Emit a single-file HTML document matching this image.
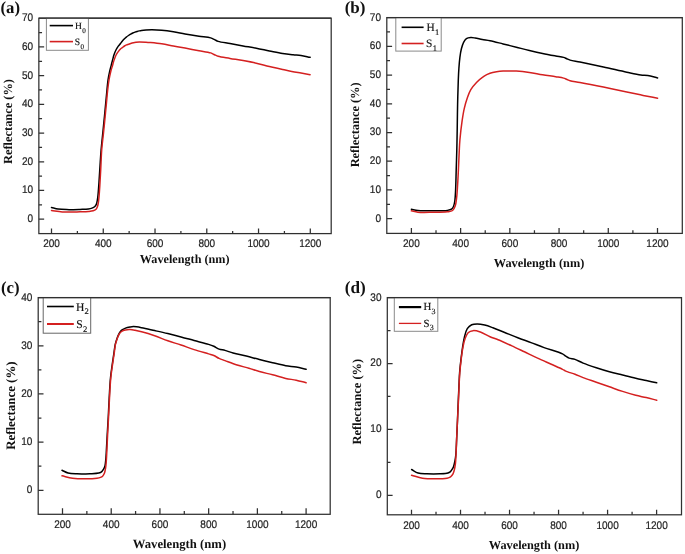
<!DOCTYPE html>
<html><head><meta charset="utf-8"><style>
html,body{margin:0;padding:0;background:#fff;width:685px;height:554px;overflow:hidden}
svg{display:block;will-change:transform;text-rendering:geometricPrecision}
.tl{font-family:"Liberation Sans",sans-serif;font-size:11px;fill:#222;stroke:#222;stroke-width:0.2px}
.at{font-family:"Liberation Serif",serif;font-weight:bold;font-size:12.6px;fill:#111}
.lg{font-family:"Liberation Serif",serif;font-size:9.8px;fill:#111;stroke:#111;stroke-width:0.15px}
.sb{font-size:7px}
.pl{font-family:"Liberation Serif",serif;font-weight:bold;font-size:16.5px;fill:#111}
</style></head><body>
<svg width="685" height="554" viewBox="0 0 685 554">
<rect width="685" height="554" fill="#fff"/>
<path d="M51.50 207.40 C53.67 207.93 55.66 208.63 58.00 209.00 C60.67 209.42 63.49 209.51 66.70 209.60 C70.66 209.71 76.07 209.52 80.00 209.40 C83.12 209.30 86.20 209.32 88.40 209.00 C89.86 208.78 90.92 208.50 92.00 208.10 C92.96 207.75 93.88 207.41 94.60 206.80 C95.32 206.18 95.86 205.34 96.30 204.40 C96.81 203.30 97.02 201.98 97.30 200.50 C97.66 198.62 97.85 196.50 98.10 194.00 C98.44 190.61 98.71 186.29 99.00 182.00 C99.34 177.05 99.65 171.33 100.00 166.00 C100.35 160.67 100.64 155.49 101.10 150.00 C101.59 144.17 102.33 137.73 102.90 132.00 C103.42 126.77 103.91 121.97 104.40 117.00 C104.88 112.10 105.36 107.00 105.80 102.40 C106.19 98.28 106.52 94.51 106.90 90.70 C107.26 87.05 107.51 83.33 108.00 80.00 C108.44 77.05 109.03 74.27 109.60 71.70 C110.10 69.44 110.67 67.48 111.20 65.37 C111.73 63.27 112.30 60.99 112.80 59.09 C113.22 57.51 113.48 56.26 114.00 54.76 C114.58 53.07 115.41 51.04 116.20 49.50 C116.86 48.21 117.55 47.13 118.30 46.10 C118.99 45.15 119.84 44.30 120.50 43.50 C121.05 42.82 121.44 42.27 122.00 41.60 C122.65 40.82 123.46 39.87 124.20 39.10 C124.89 38.38 125.57 37.71 126.30 37.10 C127.01 36.51 127.76 36.00 128.50 35.50 C129.23 35.01 129.97 34.52 130.70 34.10 C131.40 33.70 132.08 33.33 132.80 33.00 C133.52 32.67 134.26 32.40 135.00 32.14 C135.73 31.88 136.47 31.63 137.20 31.42 C137.90 31.22 138.59 31.05 139.30 30.89 C140.02 30.73 140.63 30.59 141.50 30.46 C142.73 30.28 144.39 30.11 146.00 30.00 C147.85 29.87 149.76 29.79 152.00 29.80 C154.85 29.81 158.32 29.91 161.70 30.20 C165.42 30.51 169.52 31.08 173.40 31.70 C177.28 32.32 180.95 33.18 185.00 33.90 C189.44 34.69 194.54 35.51 199.00 36.20 C203.07 36.83 207.91 37.09 210.70 37.90 C212.36 38.38 213.25 39.01 214.50 39.60 C215.75 40.18 216.57 40.87 218.20 41.40 C220.98 42.30 225.96 42.77 230.00 43.50 C234.25 44.27 238.72 45.12 243.10 45.90 C247.49 46.68 251.91 47.37 256.30 48.20 C260.68 49.03 265.02 50.02 269.40 50.90 C273.79 51.78 278.44 52.83 282.60 53.50 C286.29 54.09 289.85 54.45 293.10 54.80 C295.92 55.10 298.28 55.11 301.00 55.50 C303.94 55.92 307.07 56.70 310.10 57.30" fill="none" stroke="#000" stroke-width="1.5" stroke-linejoin="round" stroke-linecap="round"/>
<path d="M51.50 210.50 C55.10 210.97 58.25 211.65 62.30 211.90 C67.47 212.22 75.19 211.90 80.00 211.80 C83.32 211.73 85.99 211.72 88.40 211.50 C90.23 211.33 91.87 211.22 93.20 210.80 C94.23 210.48 95.12 210.13 95.80 209.50 C96.48 208.87 96.90 207.96 97.30 207.00 C97.78 205.85 98.03 204.48 98.30 203.00 C98.63 201.21 98.78 199.30 99.00 197.00 C99.29 193.89 99.54 190.01 99.80 186.00 C100.11 181.17 100.40 175.63 100.70 170.00 C101.03 163.71 101.20 156.48 101.70 150.00 C102.18 143.84 103.01 137.73 103.60 132.00 C104.14 126.77 104.61 121.97 105.10 117.00 C105.58 112.10 106.06 107.00 106.50 102.40 C106.89 98.28 107.17 94.51 107.60 90.70 C108.01 87.05 108.44 83.33 109.00 80.00 C109.49 77.05 110.06 74.29 110.70 71.70 C111.27 69.39 112.02 67.21 112.60 65.20 C113.10 63.47 113.44 62.03 114.00 60.38 C114.62 58.57 115.39 56.35 116.20 54.78 C116.85 53.53 117.56 52.59 118.30 51.60 C119.00 50.67 119.77 49.70 120.50 49.00 C121.10 48.42 121.67 48.08 122.30 47.60 C122.99 47.08 123.76 46.46 124.50 46.00 C125.19 45.57 125.90 45.21 126.60 44.90 C127.26 44.61 127.93 44.44 128.60 44.20 C129.29 43.95 129.94 43.68 130.70 43.44 C131.56 43.17 132.59 42.89 133.50 42.69 C134.35 42.50 135.11 42.38 136.00 42.26 C137.02 42.13 138.01 42.00 139.30 41.96 C141.14 41.91 144.05 42.09 146.00 42.20 C147.51 42.28 148.32 42.34 150.00 42.50 C152.88 42.77 157.81 43.22 161.70 43.80 C165.61 44.38 169.51 45.28 173.40 46.00 C177.27 46.71 180.95 47.36 185.00 48.10 C189.45 48.92 194.54 49.87 199.00 50.70 C203.08 51.46 207.91 51.99 210.70 52.90 C212.36 53.44 213.24 54.13 214.50 54.70 C215.74 55.26 216.58 55.81 218.20 56.30 C220.99 57.14 225.96 57.70 230.00 58.40 C234.25 59.14 238.73 59.80 243.10 60.60 C247.50 61.40 251.92 62.22 256.30 63.20 C260.69 64.18 265.02 65.47 269.40 66.50 C273.78 67.53 278.60 68.50 282.60 69.40 C285.94 70.15 288.73 70.88 291.80 71.50 C294.86 72.11 297.94 72.57 301.00 73.10 C304.04 73.63 307.07 74.17 310.10 74.70" fill="none" stroke="#d42020" stroke-width="1.5" stroke-linejoin="round" stroke-linecap="round"/>
<rect x="38.85" y="18.20" width="292.35" height="215.40" fill="none" stroke="#303030" stroke-width="1.25"/>
<path d="M38.85 219.20H44.15 M38.85 204.84H42.05 M38.85 190.49H44.15 M38.85 176.13H42.05 M38.85 161.77H44.15 M38.85 147.41H42.05 M38.85 133.06H44.15 M38.85 118.70H42.05 M38.85 104.34H44.15 M38.85 89.99H42.05 M38.85 75.63H44.15 M38.85 61.27H42.05 M38.85 46.91H44.15 M38.85 32.56H42.05 M51.50 233.60V228.50 M77.38 233.60V230.90 M103.26 233.60V228.50 M129.14 233.60V230.90 M155.02 233.60V228.50 M180.90 233.60V230.90 M206.78 233.60V228.50 M232.66 233.60V230.90 M258.54 233.60V228.50 M284.42 233.60V230.90 M310.30 233.60V228.50" stroke="#303030" stroke-width="1.25" fill="none"/>
<text class="tl" transform="translate(33.05 222.10) scale(0.910 1)" text-anchor="end">0</text>
<text class="tl" transform="translate(33.05 193.39) scale(0.910 1)" text-anchor="end">10</text>
<text class="tl" transform="translate(33.05 164.67) scale(0.910 1)" text-anchor="end">20</text>
<text class="tl" transform="translate(33.05 135.96) scale(0.910 1)" text-anchor="end">30</text>
<text class="tl" transform="translate(33.05 107.24) scale(0.910 1)" text-anchor="end">40</text>
<text class="tl" transform="translate(33.05 78.53) scale(0.910 1)" text-anchor="end">50</text>
<text class="tl" transform="translate(33.05 49.81) scale(0.910 1)" text-anchor="end">60</text>
<text class="tl" transform="translate(33.05 21.10) scale(0.910 1)" text-anchor="end">70</text>
<text class="tl" transform="translate(51.50 246.90) scale(0.910 1)" text-anchor="middle">200</text>
<text class="tl" transform="translate(103.26 246.90) scale(0.910 1)" text-anchor="middle">400</text>
<text class="tl" transform="translate(155.02 246.90) scale(0.910 1)" text-anchor="middle">600</text>
<text class="tl" transform="translate(206.78 246.90) scale(0.910 1)" text-anchor="middle">800</text>
<text class="tl" transform="translate(258.54 246.90) scale(0.910 1)" text-anchor="middle">1000</text>
<text class="tl" transform="translate(310.30 246.90) scale(0.910 1)" text-anchor="middle">1200</text>
<text class="at" style="font-size:12.20px" x="184.70" y="263.30" text-anchor="middle">Wavelength (nm)</text>
<text class="at" style="font-size:12.40px" transform="translate(11.50 121.50) rotate(-90)" text-anchor="middle">Reflectance (%)</text>
<rect x="46.40" y="18.20" width="42.00" height="32.10" fill="#fff" stroke="#8a8a8a" stroke-width="1.00"/>
<path d="M49.70 25.60H73.00" stroke="#000" stroke-width="1.60"/>
<path d="M49.70 41.60H73.00" stroke="#d42020" stroke-width="1.60"/>
<text class="lg" style="font-size:9.60px" x="75.00" y="28.90">H<tspan style="font-size:7.10px" dx="0.30" dy="4.32">0</tspan></text>
<text class="lg" style="font-size:9.60px" x="74.80" y="45.00">S<tspan style="font-size:7.10px" dx="0.30" dy="4.32">0</tspan></text>
<path d="M38.85 18.20H331.20" stroke="#303030" stroke-width="1.25"/>
<text class="pl" style="font-size:16.80px" x="0.50" y="12.50">(a)</text>
<path d="M411.40 209.20 C413.57 209.67 415.28 210.31 417.90 210.60 C421.78 211.03 427.63 210.73 432.50 210.70 C437.39 210.67 443.78 210.90 447.20 210.40 C449.08 210.12 450.42 209.94 451.50 209.20 C452.43 208.56 452.98 207.62 453.50 206.50 C454.18 205.04 454.47 203.16 454.80 201.00 C455.26 197.98 455.38 194.21 455.60 190.00 C455.89 184.33 456.00 176.67 456.20 170.00 C456.40 163.33 456.63 156.67 456.80 150.00 C456.97 143.33 457.07 137.08 457.20 130.00 C457.34 121.97 457.41 112.74 457.60 104.30 C457.78 96.10 458.04 86.71 458.30 80.06 C458.48 75.40 458.62 72.05 458.90 68.18 C459.16 64.47 459.44 60.68 459.90 57.28 C460.30 54.27 460.73 51.42 461.40 48.80 C462.00 46.47 462.64 44.08 463.60 42.30 C464.38 40.85 465.20 39.48 466.40 38.70 C467.60 37.92 469.33 37.71 470.80 37.60 C472.23 37.49 473.49 37.76 475.10 38.00 C477.20 38.31 479.85 39.04 482.30 39.48 C484.82 39.94 487.11 40.12 490.00 40.70 C493.80 41.46 498.73 42.82 503.10 43.90 C507.49 44.99 511.91 46.10 516.30 47.20 C520.68 48.30 525.02 49.45 529.40 50.50 C533.79 51.55 538.20 52.58 542.60 53.50 C546.97 54.41 551.88 55.30 555.70 56.00 C558.66 56.55 561.58 56.79 563.60 57.40 C564.93 57.80 565.72 58.35 566.80 58.80 C567.89 59.25 568.68 59.69 570.10 60.10 C572.49 60.79 576.01 61.20 580.00 62.00 C586.15 63.23 595.61 65.20 603.40 66.90 C611.21 68.60 619.99 70.75 626.80 72.20 C632.05 73.32 636.92 74.48 640.80 75.00 C643.52 75.37 645.29 75.11 647.80 75.50 C650.81 75.97 654.33 77.10 657.60 77.90" fill="none" stroke="#000" stroke-width="1.5" stroke-linejoin="round" stroke-linecap="round"/>
<path d="M411.40 210.80 C413.57 211.27 415.28 211.91 417.90 212.20 C421.78 212.63 427.63 212.37 432.50 212.30 C437.39 212.23 443.52 212.30 447.20 211.80 C449.46 211.49 451.26 211.50 452.60 210.50 C453.90 209.53 454.55 207.78 455.20 206.00 C456.01 203.77 456.22 201.00 456.60 198.00 C457.08 194.20 457.31 189.49 457.60 185.00 C457.91 180.18 458.14 175.23 458.40 170.00 C458.68 164.27 458.92 157.39 459.20 152.00 C459.43 147.60 459.51 144.46 459.90 140.00 C460.39 134.37 461.27 126.61 462.10 120.92 C462.77 116.29 463.39 112.29 464.30 108.36 C465.12 104.80 466.08 101.49 467.20 98.30 C468.26 95.29 469.24 92.34 470.80 89.70 C472.35 87.08 474.36 84.71 476.50 82.50 C478.68 80.24 481.37 77.90 483.80 76.31 C485.87 74.96 487.86 74.05 490.00 73.30 C492.12 72.55 494.40 72.17 496.60 71.80 C498.76 71.44 500.55 71.24 503.10 71.10 C506.72 70.91 511.91 70.88 516.30 71.10 C520.68 71.32 525.04 71.79 529.40 72.40 C533.80 73.02 538.20 74.08 542.60 74.80 C546.97 75.51 551.89 76.09 555.70 76.70 C558.67 77.18 561.54 77.50 563.60 78.10 C565.00 78.51 565.89 79.06 567.00 79.50 C568.05 79.92 568.75 80.33 570.10 80.70 C572.45 81.35 576.01 81.66 580.00 82.40 C586.15 83.53 595.61 85.40 603.40 87.00 C611.21 88.60 619.70 90.50 626.80 92.00 C632.72 93.25 637.82 94.34 643.10 95.40 C648.07 96.40 652.77 97.27 657.60 98.20" fill="none" stroke="#d42020" stroke-width="1.5" stroke-linejoin="round" stroke-linecap="round"/>
<rect x="386.80" y="17.60" width="295.50" height="215.80" fill="none" stroke="#303030" stroke-width="1.25"/>
<path d="M386.80 218.70H392.10 M386.80 204.34H390.00 M386.80 189.97H392.10 M386.80 175.61H390.00 M386.80 161.24H392.10 M386.80 146.88H390.00 M386.80 132.51H392.10 M386.80 118.15H390.00 M386.80 103.79H392.10 M386.80 89.42H390.00 M386.80 75.06H392.10 M386.80 60.69H390.00 M386.80 46.33H392.10 M386.80 31.96H390.00 M411.40 233.40V227.90 M436.01 233.40V230.30 M460.62 233.40V227.90 M485.23 233.40V230.30 M509.84 233.40V227.90 M534.45 233.40V230.30 M559.06 233.40V227.90 M583.67 233.40V230.30 M608.28 233.40V227.90 M632.89 233.40V230.30 M657.50 233.40V227.90" stroke="#303030" stroke-width="1.25" fill="none"/>
<text class="tl" transform="translate(381.00 221.60) scale(0.910 1)" text-anchor="end">0</text>
<text class="tl" transform="translate(381.00 192.87) scale(0.910 1)" text-anchor="end">10</text>
<text class="tl" transform="translate(381.00 164.14) scale(0.910 1)" text-anchor="end">20</text>
<text class="tl" transform="translate(381.00 135.41) scale(0.910 1)" text-anchor="end">30</text>
<text class="tl" transform="translate(381.00 106.69) scale(0.910 1)" text-anchor="end">40</text>
<text class="tl" transform="translate(381.00 77.96) scale(0.910 1)" text-anchor="end">50</text>
<text class="tl" transform="translate(381.00 49.23) scale(0.910 1)" text-anchor="end">60</text>
<text class="tl" transform="translate(381.00 20.50) scale(0.910 1)" text-anchor="end">70</text>
<text class="tl" transform="translate(411.40 246.70) scale(0.910 1)" text-anchor="middle">200</text>
<text class="tl" transform="translate(460.62 246.70) scale(0.910 1)" text-anchor="middle">400</text>
<text class="tl" transform="translate(509.84 246.70) scale(0.910 1)" text-anchor="middle">600</text>
<text class="tl" transform="translate(559.06 246.70) scale(0.910 1)" text-anchor="middle">800</text>
<text class="tl" transform="translate(608.28 246.70) scale(0.910 1)" text-anchor="middle">1000</text>
<text class="tl" transform="translate(657.50 246.70) scale(0.910 1)" text-anchor="middle">1200</text>
<text class="at" style="font-size:12.30px" x="539.05" y="266.60" text-anchor="middle">Wavelength (nm)</text>
<text class="at" style="font-size:12.40px" transform="translate(359.40 124.85) rotate(-90)" text-anchor="middle">Reflectance (%)</text>
<rect x="395.80" y="17.60" width="45.40" height="33.50" fill="#fff" stroke="#8a8a8a" stroke-width="1.00"/>
<path d="M401.60 27.30H423.60" stroke="#000" stroke-width="1.60"/>
<path d="M401.60 43.50H423.60" stroke="#d42020" stroke-width="1.60"/>
<text class="lg" style="font-size:11.40px" x="426.50" y="30.60">H<tspan style="font-size:8.44px" dx="0.30" dy="4.00">1</tspan></text>
<text class="lg" style="font-size:11.40px" x="426.10" y="46.90">S<tspan style="font-size:8.44px" dx="0.30" dy="4.00">1</tspan></text>
<path d="M386.80 17.60H682.30" stroke="#303030" stroke-width="1.25"/>
<text class="pl" style="font-size:17.00px" x="344.70" y="13.10">(b)</text>
<path d="M62.00 470.30 C64.03 471.20 65.83 472.41 68.10 473.00 C70.72 473.68 73.67 473.67 76.90 473.80 C80.83 473.96 86.07 473.87 90.00 473.70 C93.23 473.56 96.67 473.56 98.80 473.00 C100.10 472.66 100.99 472.26 101.80 471.60 C102.57 470.97 103.09 470.08 103.60 469.20 C104.13 468.28 104.56 467.43 104.90 466.20 C105.39 464.42 105.56 461.85 105.80 459.40 C106.08 456.52 106.20 453.50 106.40 450.00 C106.66 445.58 106.90 440.28 107.20 435.00 C107.53 429.09 107.97 422.23 108.30 416.20 C108.60 410.60 108.77 405.82 109.10 400.00 C109.48 393.18 109.86 384.41 110.50 377.80 C111.02 372.44 111.77 367.85 112.40 363.30 C112.97 359.24 113.57 355.24 114.10 351.80 C114.53 349.00 114.76 346.57 115.30 344.20 C115.79 342.06 116.46 340.00 117.10 338.20 C117.64 336.69 118.17 335.31 118.80 334.10 C119.35 333.05 119.93 332.06 120.60 331.30 C121.18 330.64 121.76 330.20 122.50 329.70 C123.36 329.12 124.37 328.53 125.50 328.10 C126.82 327.60 128.59 327.25 130.00 327.00 C131.23 326.78 132.09 326.59 133.50 326.60 C135.64 326.62 138.59 327.16 141.60 327.70 C145.46 328.39 150.34 329.62 154.70 330.60 C159.07 331.58 163.43 332.55 167.80 333.60 C172.20 334.65 176.62 335.75 181.00 336.90 C185.38 338.05 189.62 339.28 194.10 340.50 C198.81 341.78 205.00 343.26 208.60 344.40 C210.79 345.09 212.08 345.54 213.80 346.30 C215.59 347.09 217.24 348.42 219.10 349.10 C220.97 349.79 222.89 349.83 225.00 350.40 C227.50 351.08 230.05 352.15 233.10 353.00 C236.95 354.07 241.91 355.02 246.30 356.10 C250.68 357.18 255.02 358.40 259.40 359.50 C263.79 360.60 268.21 361.66 272.60 362.70 C276.97 363.73 281.56 364.95 285.70 365.70 C289.38 366.36 292.76 366.49 296.20 367.10 C299.56 367.70 302.80 368.57 306.10 369.30" fill="none" stroke="#000" stroke-width="1.5" stroke-linejoin="round" stroke-linecap="round"/>
<path d="M62.00 475.80 C65.50 476.60 68.78 477.69 72.50 478.20 C76.62 478.76 81.47 478.82 85.70 478.80 C89.61 478.79 94.32 478.57 97.00 478.20 C98.51 477.99 99.51 477.79 100.50 477.40 C101.32 477.08 101.99 476.79 102.60 476.20 C103.33 475.50 103.93 474.46 104.40 473.30 C105.00 471.84 105.29 469.90 105.60 468.00 C105.95 465.84 106.11 463.48 106.30 461.00 C106.52 458.19 106.62 455.47 106.80 452.00 C107.04 447.23 107.31 440.81 107.60 435.00 C107.91 428.89 108.29 422.23 108.60 416.20 C108.89 410.60 109.07 405.82 109.40 400.00 C109.78 393.18 110.16 384.41 110.80 377.80 C111.32 372.44 112.07 367.85 112.70 363.30 C113.27 359.24 113.90 355.24 114.40 351.80 C114.81 349.01 114.97 346.54 115.50 344.20 C115.97 342.12 116.66 340.13 117.30 338.40 C117.84 336.96 118.31 335.64 119.00 334.50 C119.63 333.47 120.41 332.49 121.20 331.80 C121.86 331.22 122.57 330.82 123.30 330.50 C124.00 330.19 124.63 330.05 125.50 329.90 C126.73 329.69 128.46 329.54 130.00 329.60 C131.63 329.66 133.23 329.97 135.00 330.30 C137.05 330.68 139.04 331.12 141.60 331.80 C145.24 332.77 150.36 334.31 154.70 335.80 C159.09 337.31 163.40 339.26 167.80 340.80 C172.17 342.33 176.62 343.53 181.00 345.00 C185.39 346.47 189.60 348.14 194.10 349.60 C198.79 351.12 204.98 352.81 208.60 353.90 C210.77 354.56 212.09 354.78 213.80 355.50 C215.60 356.26 217.25 357.56 219.10 358.40 C220.98 359.26 222.68 359.75 225.00 360.60 C228.31 361.82 233.07 363.72 237.10 365.00 C241.03 366.25 245.09 367.09 248.90 368.20 C252.51 369.26 255.68 370.45 259.40 371.50 C263.53 372.66 268.22 373.65 272.60 374.80 C276.98 375.95 281.55 377.48 285.70 378.40 C289.37 379.22 292.77 379.47 296.20 380.20 C299.56 380.91 302.80 381.87 306.10 382.70" fill="none" stroke="#d42020" stroke-width="1.5" stroke-linejoin="round" stroke-linecap="round"/>
<rect x="38.20" y="297.60" width="292.00" height="216.70" fill="none" stroke="#303030" stroke-width="1.25"/>
<path d="M38.20 490.30H43.50 M38.20 466.21H41.40 M38.20 442.12H43.50 M38.20 418.04H41.40 M38.20 393.95H43.50 M38.20 369.86H41.40 M38.20 345.77H43.50 M38.20 321.69H41.40 M62.50 514.30V508.30 M86.86 514.30V511.10 M111.22 514.30V508.30 M135.58 514.30V511.10 M159.94 514.30V508.30 M184.30 514.30V511.10 M208.66 514.30V508.30 M233.02 514.30V511.10 M257.38 514.30V508.30 M281.74 514.30V511.10 M306.10 514.30V508.30" stroke="#303030" stroke-width="1.25" fill="none"/>
<text class="tl" transform="translate(32.40 493.20) scale(0.910 1)" text-anchor="end">0</text>
<text class="tl" transform="translate(32.40 445.02) scale(0.910 1)" text-anchor="end">10</text>
<text class="tl" transform="translate(32.40 396.85) scale(0.910 1)" text-anchor="end">20</text>
<text class="tl" transform="translate(32.40 348.67) scale(0.910 1)" text-anchor="end">30</text>
<text class="tl" transform="translate(32.40 300.50) scale(0.910 1)" text-anchor="end">40</text>
<text class="tl" transform="translate(62.50 527.60) scale(0.910 1)" text-anchor="middle">200</text>
<text class="tl" transform="translate(111.22 527.60) scale(0.910 1)" text-anchor="middle">400</text>
<text class="tl" transform="translate(159.94 527.60) scale(0.910 1)" text-anchor="middle">600</text>
<text class="tl" transform="translate(208.66 527.60) scale(0.910 1)" text-anchor="middle">800</text>
<text class="tl" transform="translate(257.38 527.60) scale(0.910 1)" text-anchor="middle">1000</text>
<text class="tl" transform="translate(306.10 527.60) scale(0.910 1)" text-anchor="middle">1200</text>
<text class="at" style="font-size:12.70px" x="179.45" y="547.50" text-anchor="middle">Wavelength (nm)</text>
<text class="at" style="font-size:12.90px" transform="translate(15.10 405.60) rotate(-90)" text-anchor="middle">Reflectance (%)</text>
<rect x="43.20" y="297.70" width="47.50" height="35.50" fill="#fff" stroke="#666" stroke-width="1.00"/>
<path d="M47.00 306.50H73.80" stroke="#000" stroke-width="1.60"/>
<path d="M47.00 324.00H73.80" stroke="#d42020" stroke-width="2.00"/>
<text class="lg" style="font-size:11.60px" x="75.90" y="310.70">H<tspan style="font-size:8.58px" dx="0.30" dy="3.50">2</tspan></text>
<text class="lg" style="font-size:11.60px" x="76.30" y="328.20">S<tspan style="font-size:8.58px" dx="0.30" dy="3.50">2</tspan></text>
<path d="M38.20 297.60H330.20" stroke="#303030" stroke-width="1.25"/>
<text class="pl" style="font-size:16.80px" x="0.90" y="293.00">(c)</text>
<path d="M411.60 469.50 C413.77 470.67 415.69 472.27 418.10 473.00 C420.74 473.79 423.67 473.65 426.90 473.80 C430.83 473.98 436.19 473.99 440.00 473.80 C442.97 473.65 446.09 473.54 447.90 473.00 C448.94 472.69 449.54 472.34 450.20 471.80 C450.88 471.25 451.37 470.51 451.90 469.70 C452.52 468.75 453.13 467.66 453.60 466.40 C454.17 464.87 454.54 462.94 454.90 461.10 C455.28 459.15 455.55 457.49 455.80 455.00 C456.19 451.11 456.34 445.36 456.60 440.00 C456.90 433.81 457.22 426.67 457.50 420.00 C457.78 413.33 458.03 406.19 458.30 400.00 C458.53 394.64 458.77 389.74 459.00 385.00 C459.20 380.72 459.28 377.04 459.60 372.80 C459.95 368.17 460.56 362.82 461.10 358.30 C461.57 354.32 462.03 350.73 462.60 347.11 C463.14 343.68 463.58 340.28 464.40 337.12 C465.17 334.16 465.88 330.86 467.30 328.70 C468.46 326.93 470.00 325.50 471.70 324.70 C473.37 323.92 475.38 323.88 477.40 323.90 C479.68 323.92 482.22 324.46 484.70 325.06 C487.38 325.71 489.94 326.70 492.90 327.78 C496.49 329.09 500.66 330.89 504.70 332.50 C508.95 334.19 513.42 336.02 517.80 337.70 C522.18 339.38 526.61 340.95 531.00 342.60 C535.38 344.25 539.35 345.88 544.10 347.60 C549.70 349.63 558.92 352.08 562.50 353.90 C564.13 354.73 564.68 355.49 565.80 356.20 C566.89 356.89 567.80 357.59 569.10 358.10 C570.74 358.74 572.92 358.70 575.00 359.40 C577.53 360.25 580.04 361.87 583.10 363.10 C586.93 364.64 591.89 366.26 596.30 367.70 C600.66 369.13 605.01 370.48 609.40 371.70 C613.78 372.91 618.21 373.91 622.60 375.00 C626.97 376.08 631.57 377.24 635.70 378.20 C639.39 379.05 642.70 379.73 646.20 380.50 C649.70 381.27 653.20 382.03 656.70 382.80" fill="none" stroke="#000" stroke-width="1.5" stroke-linejoin="round" stroke-linecap="round"/>
<path d="M411.60 475.30 C415.23 476.27 418.66 477.61 422.50 478.20 C426.66 478.84 431.47 478.82 435.70 478.80 C439.61 478.79 444.57 478.63 447.00 478.20 C448.19 477.99 448.84 477.79 449.60 477.40 C450.29 477.04 450.85 476.56 451.40 476.00 C452.00 475.38 452.56 474.62 453.00 473.80 C453.48 472.91 453.76 472.03 454.10 470.80 C454.60 468.97 455.09 466.28 455.40 463.80 C455.75 461.04 455.81 458.53 456.00 455.00 C456.29 449.68 456.51 441.56 456.80 435.00 C457.08 428.64 457.41 422.23 457.70 416.20 C457.97 410.60 458.26 405.30 458.50 400.00 C458.73 394.90 458.87 389.74 459.10 385.00 C459.31 380.72 459.46 377.04 459.80 372.80 C460.17 368.17 460.73 362.85 461.30 358.30 C461.81 354.24 462.28 350.32 463.00 346.80 C463.62 343.75 464.25 340.83 465.20 338.35 C466.01 336.24 466.70 334.04 468.10 332.75 C469.40 331.55 471.25 330.84 473.10 330.65 C475.25 330.43 477.78 331.21 480.30 332.05 C483.36 333.07 486.88 335.41 490.00 336.73 C492.79 337.91 495.10 338.48 498.10 339.70 C501.99 341.28 506.92 343.58 511.30 345.60 C515.69 347.62 520.03 349.72 524.40 351.80 C528.79 353.89 533.20 356.06 537.60 358.10 C541.96 360.12 546.45 362.09 550.70 364.00 C554.74 365.82 559.97 368.03 562.50 369.30 C563.74 369.92 564.30 370.36 565.20 370.80 C566.06 371.22 566.71 371.49 567.80 371.90 C569.59 372.56 572.55 373.30 575.00 374.20 C577.64 375.17 580.05 376.43 583.10 377.60 C586.95 379.08 591.91 380.66 596.30 382.20 C600.68 383.73 605.02 385.27 609.40 386.80 C613.79 388.34 618.19 389.98 622.60 391.40 C626.96 392.81 631.56 394.23 635.70 395.30 C639.38 396.25 642.71 396.78 646.20 397.60 C649.71 398.42 653.20 399.33 656.70 400.20" fill="none" stroke="#d42020" stroke-width="1.5" stroke-linejoin="round" stroke-linecap="round"/>
<rect x="387.30" y="297.60" width="294.20" height="217.20" fill="none" stroke="#303030" stroke-width="1.25"/>
<path d="M387.30 495.30H392.60 M387.30 462.35H390.50 M387.30 429.40H392.60 M387.30 396.45H390.50 M387.30 363.50H392.60 M387.30 330.55H390.50 M411.50 514.80V509.80 M436.01 514.80V511.80 M460.52 514.80V509.80 M485.03 514.80V511.80 M509.54 514.80V509.80 M534.05 514.80V511.80 M558.56 514.80V509.80 M583.07 514.80V511.80 M607.58 514.80V509.80 M632.09 514.80V511.80 M656.60 514.80V509.80" stroke="#303030" stroke-width="1.25" fill="none"/>
<text class="tl" transform="translate(381.50 498.20) scale(0.910 1)" text-anchor="end">0</text>
<text class="tl" transform="translate(381.50 432.30) scale(0.910 1)" text-anchor="end">10</text>
<text class="tl" transform="translate(381.50 366.40) scale(0.910 1)" text-anchor="end">20</text>
<text class="tl" transform="translate(381.50 300.50) scale(0.910 1)" text-anchor="end">30</text>
<text class="tl" transform="translate(411.50 528.60) scale(0.910 1)" text-anchor="middle">200</text>
<text class="tl" transform="translate(460.52 528.60) scale(0.910 1)" text-anchor="middle">400</text>
<text class="tl" transform="translate(509.54 528.60) scale(0.910 1)" text-anchor="middle">600</text>
<text class="tl" transform="translate(558.56 528.60) scale(0.910 1)" text-anchor="middle">800</text>
<text class="tl" transform="translate(607.58 528.60) scale(0.910 1)" text-anchor="middle">1000</text>
<text class="tl" transform="translate(656.60 528.60) scale(0.910 1)" text-anchor="middle">1200</text>
<text class="at" style="font-size:12.30px" x="534.05" y="548.60" text-anchor="middle">Wavelength (nm)</text>
<text class="at" style="font-size:12.50px" transform="translate(361.30 401.60) rotate(-90)" text-anchor="middle">Reflectance (%)</text>
<rect x="394.30" y="297.70" width="43.50" height="33.60" fill="#fff" stroke="#8a8a8a" stroke-width="1.00"/>
<path d="M398.90 307.10H421.20" stroke="#000" stroke-width="2.20"/>
<path d="M398.90 323.40H421.20" stroke="#d42020" stroke-width="1.30"/>
<text class="lg" style="font-size:10.80px" x="423.50" y="310.10">H<tspan style="font-size:7.99px" dx="0.30" dy="3.80">3</tspan></text>
<text class="lg" style="font-size:10.80px" x="423.50" y="326.60">S<tspan style="font-size:7.99px" dx="0.30" dy="3.80">3</tspan></text>
<path d="M387.30 297.60H681.50" stroke="#303030" stroke-width="1.25"/>
<text class="pl" style="font-size:17.20px" x="344.70" y="292.80">(d)</text>
</svg>
</body></html>
